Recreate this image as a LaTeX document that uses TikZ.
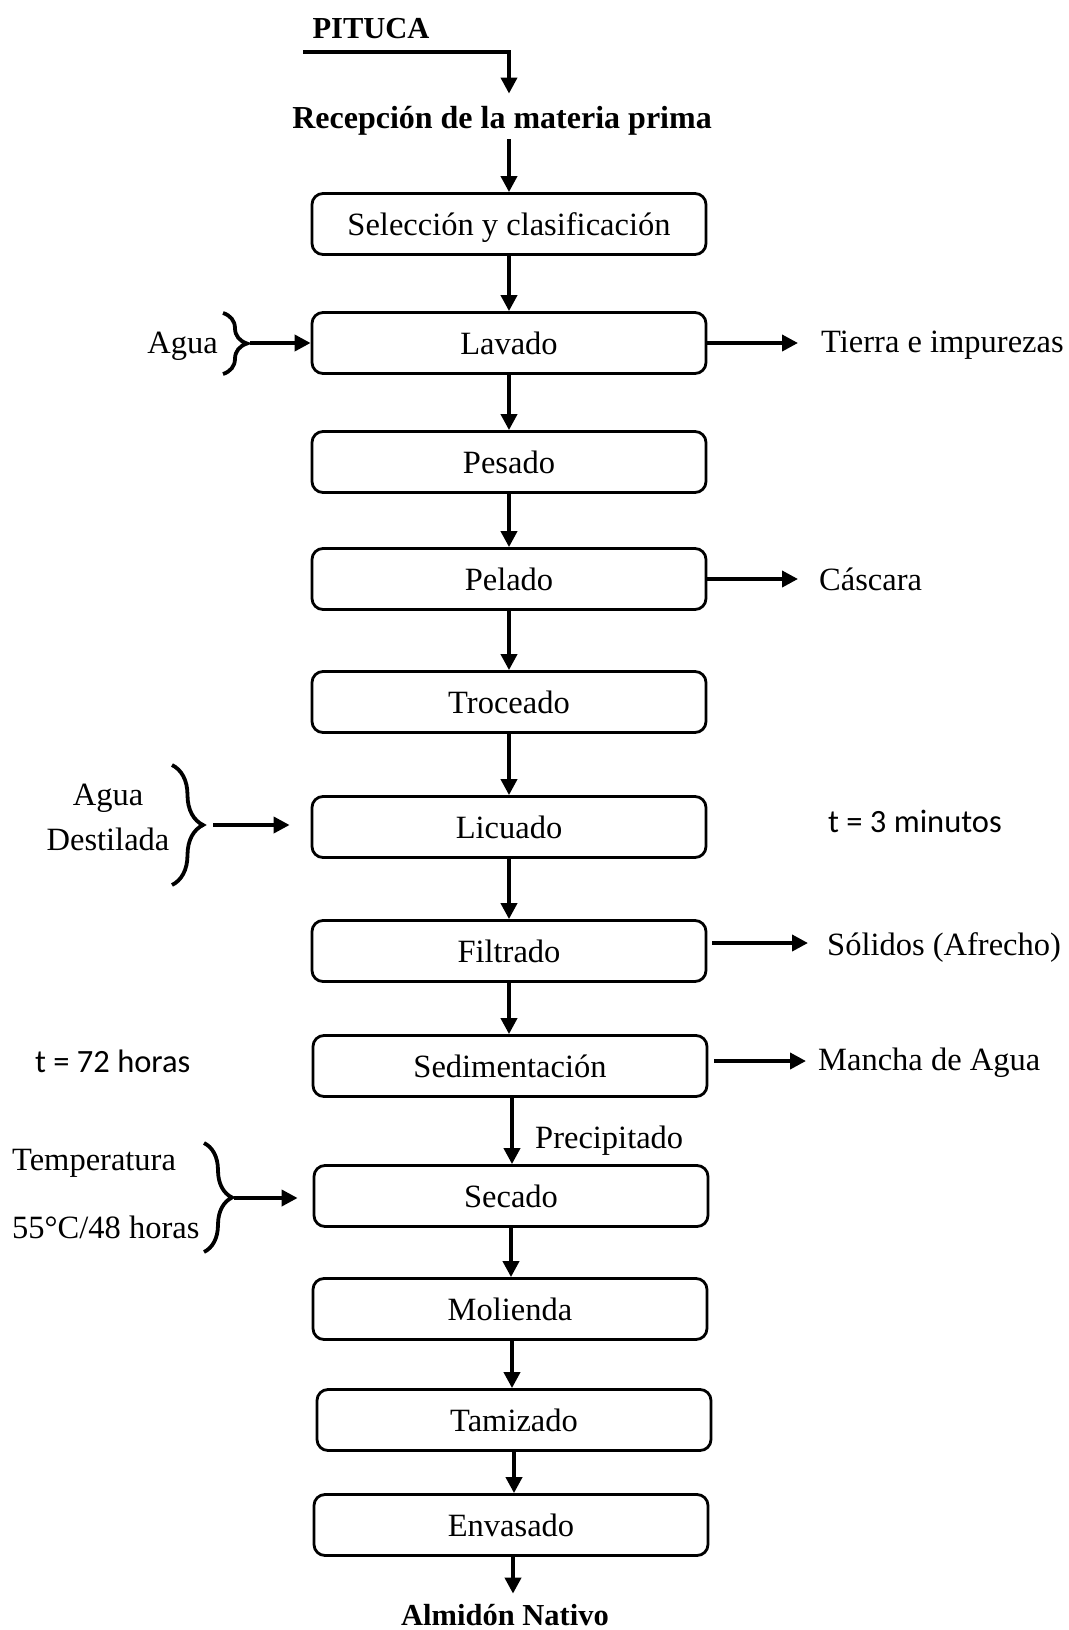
\documentclass[tikz,border=0pt]{standalone}
\usepackage{fontspec}
\setmainfont{Liberation Serif}
\newfontfamily\calibrifont{Carlito}
\usetikzlibrary{arrows.meta,decorations.pathreplacing}
\newcommand\fsreg{\fontsize{32.5pt}{38pt}\selectfont}
\newcommand\fsbold{\fontsize{32pt}{38pt}\selectfont\bfseries}
\newcommand\fssmall{\fontsize{30.5pt}{36pt}\selectfont\bfseries}
\begin{document}
\begin{tikzpicture}[x=1pt,y=-1pt,
  box/.style={draw, line width=2.8pt, rounded corners=11pt, minimum width=394pt,
    minimum height=61pt, inner sep=0pt, text height=29pt, text depth=6pt, font=\fsreg},
  lbl/.style={inner sep=0pt, font=\fsreg},
  sans/.style={inner sep=0pt, font=\calibrifont\fsreg},
  arr/.style={line width=3.8pt, -{Triangle[length=16pt,width=16pt]}},
  brc/.style={line width=3.8pt, decorate, decoration={brace, amplitude=#1}}]
\useasboundingbox (0,0) rectangle (1068,1630);

% top
\node[inner sep=0pt, font=\fssmall, anchor=base] (pit) at (371,38) {PITUCA};
\coordinate (pstart) at (303,52);
\node[inner sep=0pt, font=\fsbold, anchor=base] (rec) at (502,128) {Recepción de la materia prima};

% boxes
\node[box] (sel) at (509,224) {Selección y clasificación};
\node[box] (lav) at (509,343) {Lavado};
\node[box] (pes) at (509,462) {Pesado};
\node[box] (pel) at (509,579) {Pelado};
\node[box] (tro) at (509,702) {Troceado};
\node[box] (lic) at (509,827) {Licuado};
\node[box] (fil) at (509,951) {Filtrado};
\node[box] (sed) at (510,1066) {Sedimentación};
\node[box] (sec) at (511,1196) {Secado};
\node[box] (mol) at (510,1309) {Molienda};
\node[box] (tam) at (514,1420) {Tamizado};
\node[box] (env) at (511,1525) {Envasado};

\node[inner sep=0pt, font=\fssmall, anchor=base] (alm) at (505,1625) {Almidón Nativo};

% main arrows
\draw[arr] (pstart) -| ([yshift=12pt]rec.north -| sel.north);
\draw[arr] ([yshift=-4pt]rec.south -| sel.north) -- (sel.north);
\draw[arr] (sel.south) -- (lav.north);
\draw[arr] (lav.south) -- (pes.north);
\draw[arr] (pes.south) -- (pel.north);
\draw[arr] (pel.south) -- (tro.north);
\draw[arr] (tro.south) -- (lic.north);
\draw[arr] (lic.south) -- (fil.north);
\draw[arr] (fil.south) -- (fil.south |- sed.north);
\draw[arr] ([xshift=2pt]sed.south) -- ([xshift=2pt]sed.south |- sec.north);
\draw[arr] (sec.south) -- (sec.south |- mol.north);
\draw[arr] ([xshift=2pt]mol.south) -- ([xshift=2pt]mol.south |- tam.north);
\draw[arr] (tam.south) -- (tam.south |- env.north);
\draw[arr] ([xshift=2pt]env.south) -- ([xshift=2pt,yshift=10pt]env.south |- alm.north);

\node[lbl, anchor=base west] (prec) at (535,1148) {Precipitado};

% right side outputs
\node[lbl, anchor=base west] (tierra) at (821,352) {Tierra e impurezas};
\draw[arr] (lav.east) -- ([xshift=-23pt]lav.east -| tierra.west);
\node[lbl, anchor=base west] (casc) at (819,590) {Cáscara};
\draw[arr] (pel.east) -- ([xshift=-21pt]pel.east -| casc.west);
\node[sans, anchor=base west] (t3) at (828,832) {t = 3 minutos};
\node[lbl, anchor=base west] (sol) at (827,955) {Sólidos (Afrecho)};
\draw[arr] ([xshift=5pt,yshift=8pt]fil.east) -- ([xshift=-19pt,yshift=8pt]fil.east -| sol.west);
\node[lbl, anchor=base west] (man) at (818,1070) {Mancha de Agua};
\draw[arr] ([xshift=6pt,yshift=5pt]sed.east) -- ([xshift=-12pt,yshift=5pt]sed.east -| man.west);

% left side inputs
\node[lbl, anchor=base east] (agua1) at (218,353) {Agua};
\coordinate (b1t) at (223,313);
\coordinate (b1b) at (223,374);
\coordinate (b1tip) at (250,343);
\draw[brc=24pt] (b1t) -- (b1b);
\draw[arr] (b1tip) -- (b1tip -| lav.west);

\node[lbl, anchor=base] (agua2) at (108,805) {Agua};
\node[lbl, anchor=base] (dest) at (108,850) {Destilada};
\coordinate (b2t) at (172,765);
\coordinate (b2b) at (172,885);
\coordinate (b2tip) at (213,825);
\draw[brc=31pt] (b2t) -- (b2b);
\draw[arr] (b2tip) -- ([xshift=-21pt]b2tip -| lic.west);

\node[sans, anchor=base west] (t72) at (35,1072) {t = 72 horas};

\node[lbl, anchor=base west] (temp) at (12,1170) {Temperatura};
\node[lbl, anchor=base west] (t55) at (12,1238) {55°C/48 horas};
\coordinate (b3t) at (204,1143);
\coordinate (b3b) at (204,1252);
\coordinate (b3tip) at (234,1198);
\draw[brc=28pt] (b3t) -- (b3b);
\draw[arr] (b3tip) -- ([xshift=-15pt]b3tip -| sec.west);
\end{tikzpicture}
\end{document}
